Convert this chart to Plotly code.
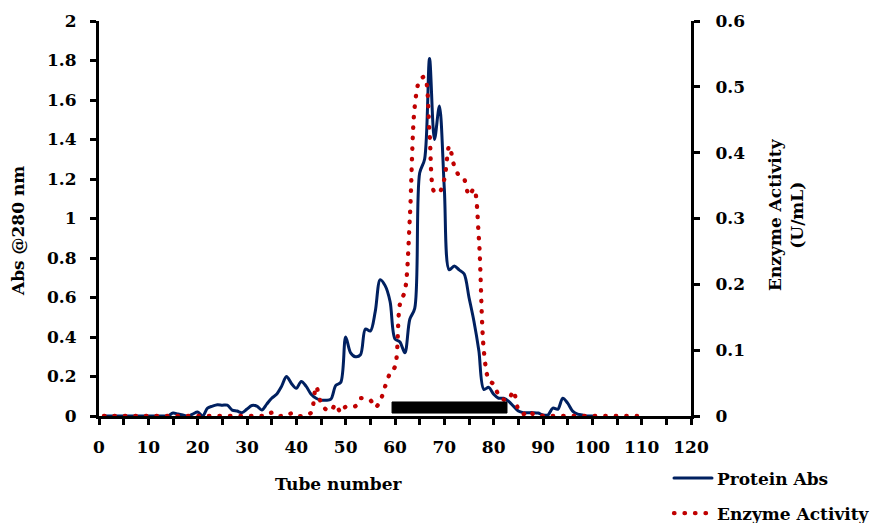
import plotly.graph_objects as go

# Elution profile: absorbance at 280 nm and enzyme activity per collected tube
protein_tubes = list(range(1, 101))
protein_abs = (
    [0.0] * 14
    + [0.015, 0.01, 0.005, 0.0, 0.01, 0.02, 0.0, 0.04, 0.05, 0.057,   # 15-24
       0.055, 0.055, 0.03, 0.025, 0.017, 0.035, 0.053, 0.05, 0.03, 0.06,  # 25-34
       0.09, 0.11, 0.15, 0.2, 0.165, 0.14, 0.175, 0.15, 0.11, 0.09,   # 35-44
       0.08, 0.08, 0.085, 0.155, 0.17, 0.4, 0.32, 0.3, 0.31, 0.44,    # 45-54
       0.43, 0.53, 0.69, 0.66, 0.58, 0.39, 0.375, 0.32, 0.49, 0.545,  # 55-64
       1.23, 1.3, 1.81, 1.4, 1.57, 1.15, 0.74, 0.76, 0.74, 0.72,      # 65-74
       0.6, 0.48, 0.33, 0.135, 0.145, 0.11, 0.09, 0.09, 0.075, 0.05,  # 75-84
       0.025, 0.017, 0.017, 0.017, 0.015, 0.005, 0.005, 0.04, 0.034, 0.09,  # 85-94
       0.065, 0.025, 0.01, 0.005, 0.0, 0.0]                           # 95-100
)

activity_tubes = list(range(1, 111))
enzyme_activity = (
    [0.0] * 34
    + [0.005, 0.0, 0.0, 0.0, 0.004, 0.0, 0.0, 0.002, 0.005, 0.045,     # 35-44
       0.02, 0.01, 0.008, 0.018, 0.005, 0.014, 0.014, 0.015, 0.027, 0.025,  # 45-54
       0.024, 0.013, 0.023, 0.045, 0.065, 0.075, 0.17, 0.19, 0.3, 0.47,    # 55-64
       0.51, 0.515, 0.43, 0.34, 0.34, 0.36, 0.41, 0.38, 0.365, 0.36,     # 65-74
       0.335, 0.345, 0.27, 0.1, 0.055, 0.048, 0.032, 0.025, 0.024, 0.038,  # 75-84
       0.01, 0.003, 0.008, 0.003, 0.003]                                 # 85-89
    + [0.0] * 21                                                         # 90-110
)

# Tubes pooled for the next purification step
pooled_first, pooled_last = 59.4, 82.7

x_ticks = list(range(0, 121, 10))
left_ticks = [0, 0.2, 0.4, 0.6, 0.8, 1, 1.2, 1.4, 1.6, 1.8, 2]
right_ticks = [0, 0.1, 0.2, 0.3, 0.4, 0.5, 0.6]

NAVY = "#002060"
DARK_RED = "#C00000"
FONT = "DejaVu Serif"

fig = go.Figure()
fig.add_trace(go.Scatter(
    x=protein_tubes, y=protein_abs, name="Protein Abs", mode="lines",
    line=dict(color=NAVY, width=3, shape="spline", smoothing=0.9),
    legendgroup="a", yaxis="y",
))
fig.add_trace(go.Scatter(
    x=activity_tubes, y=enzyme_activity, name="Enzyme Activity", mode="lines",
    line=dict(color=DARK_RED, width=4.3, shape="spline", smoothing=0.9,
              dash="0.5px,10px"),
    legendgroup="b", yaxis="y2",
))

fig.add_shape(type="rect", xref="x", yref="y",
              x0=pooled_first, x1=pooled_last, y0=0.015, y1=0.071,
              fillcolor="black", line=dict(color="black", width=1),
              layer="above")

axis_font = dict(family=FONT, size=17, color="black", weight="bold")
title_font = dict(family=FONT, size=17, color="black", weight="bold")

fig.update_layout(
    width=875, height=523,
    margin=dict(l=99, r=184, t=21, b=107),
    paper_bgcolor="white", plot_bgcolor="white",
    showlegend=True,
    legend=dict(xref="paper", yref="container",
                x=0.9645, y=0.1195, xanchor="left", yanchor="top",
                font=dict(family=FONT, size=17, color="black", weight="bold"),
                itemwidth=38, tracegroupgap=10, bgcolor="rgba(0,0,0,0)"),
    xaxis=dict(range=[0, 120], tickvals=x_ticks, ticks="outside",
               ticklen=6, tickwidth=3, tickcolor="black",
               minor=dict(dtick=5, ticks="outside", ticklen=6, tickwidth=3,
                          tickcolor="black"),
               showline=True, linecolor="black", linewidth=3,
               showgrid=False, zeroline=False, tickfont=axis_font,
               ticklabelstandoff=8, automargin=False),
    yaxis=dict(range=[0, 2], tickvals=left_ticks, ticks="outside",
               ticklen=6, tickwidth=3, tickcolor="black",
               showline=True, linecolor="black", linewidth=3,
               showgrid=False, zeroline=False, tickfont=axis_font,
               ticklabelstandoff=10, automargin=False),
    yaxis2=dict(range=[0, 0.6], tickvals=right_ticks, overlaying="y",
                side="right", ticks="outside", ticklen=6, tickwidth=3,
                tickcolor="black", showline=True, linecolor="black",
                linewidth=3, showgrid=False, zeroline=False,
                tickfont=axis_font, ticklabelstandoff=12, automargin=False),
    annotations=[
        dict(text="Tube number", xref="paper", yref="paper",
             x=0.404, y=-0.172, xanchor="center", yanchor="middle",
             showarrow=False, font=title_font),
        dict(text="Abs @280 nm", xref="paper", yref="paper",
             x=-0.137, y=0.468, xanchor="center", yanchor="middle",
             textangle=-90, showarrow=False, font=title_font),
        dict(text="Enzyme Activity<br>(U/mL)", xref="paper", yref="paper",
             x=1.1605, y=0.509, xanchor="center", yanchor="middle",
             textangle=-90, showarrow=False, font=title_font),
    ],
)

# Round line caps turn the dash pattern into round dots
round_caps = (
    "var s=document.createElement('style');"
    "s.textContent='path.js-line{stroke-linecap:round;stroke-linejoin:round}';"
    "document.head.appendChild(s);"
)
fig.write_html("out.html", post_script=round_caps)
